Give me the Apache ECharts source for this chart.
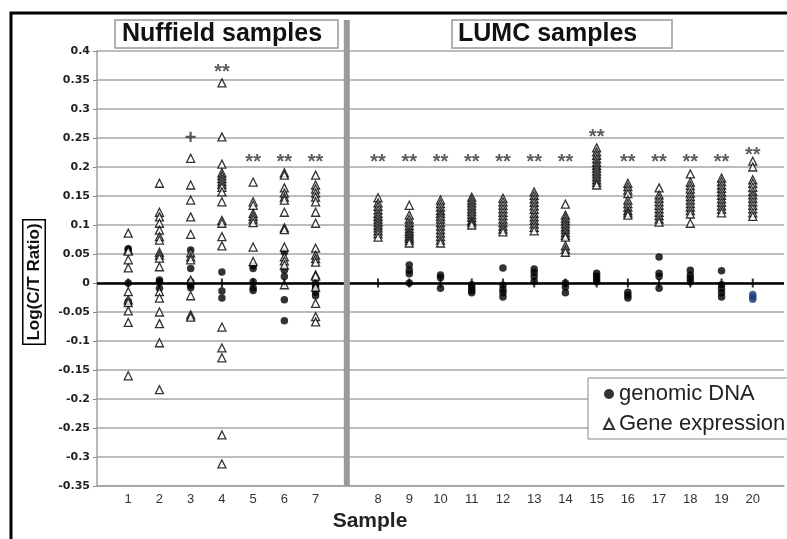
<!DOCTYPE html>
<html>
<head>
<meta charset="utf-8">
<script src="https://cdn.jsdelivr.net/npm/echarts@6/dist/echarts.min.js"></script>
<style>
html,body{margin:0;padding:0;background:#fff;}
#chart{width:787px;height:539px;}
</style>
</head>
<body>
<div id="chart"></div>
<script>
// ---- Data ----
const samples = ['1','2','3','4','5','6','7','8','9','10','11','12','13','14','15','16','17','18','19','20'];
const groupTitles = ['Nuffield samples', 'LUMC samples'];
const seriesNames = ['genomic DNA', 'Gene expression'];

// Gene expression log(C/T) values per sample
const geneExpression = [
  [0.086, 0.057, 0.055, 0.04, 0.026, -0.015, -0.029, -0.034, -0.048, -0.068, -0.16],
  [0.172, 0.122, 0.114, 0.103, 0.091, 0.08, 0.074, 0.053, 0.048, 0.043, 0.028, -0.015, -0.026, -0.05, -0.07, -0.103, -0.184],
  [0.215, 0.169, 0.143, 0.114, 0.084, 0.052, 0.045, 0.04, 0.005, -0.022, -0.055, -0.059],
  [0.345, 0.252, 0.205, 0.19, 0.185, 0.18, 0.175, 0.17, 0.165, 0.157, 0.14, 0.108, 0.103, 0.08, 0.064, -0.076, -0.112, -0.129, -0.262, -0.312],
  [0.174, 0.14, 0.134, 0.12, 0.115, 0.11, 0.104, 0.062, 0.037],
  [0.19, 0.186, 0.164, 0.155, 0.148, 0.143, 0.122, 0.095, 0.092, 0.062, 0.045, 0.038, 0.031, -0.003],
  [0.186, 0.169, 0.162, 0.155, 0.148, 0.14, 0.122, 0.103, 0.06, 0.048, 0.042, 0.036, 0.014, 0.012, -0.007, -0.035, -0.058, -0.067],
  [0.147, 0.138, 0.132, 0.126, 0.12, 0.115, 0.11, 0.105, 0.1, 0.095, 0.09, 0.085, 0.079],
  [0.134, 0.117, 0.11, 0.104, 0.099, 0.094, 0.089, 0.085, 0.081, 0.077, 0.073, 0.069],
  [0.143, 0.137, 0.131, 0.125, 0.12, 0.115, 0.11, 0.104, 0.098, 0.092, 0.086, 0.08, 0.074, 0.069],
  [0.148, 0.143, 0.138, 0.133, 0.128, 0.123, 0.118, 0.113, 0.108, 0.104, 0.1],
  [0.146, 0.14, 0.134, 0.128, 0.122, 0.116, 0.11, 0.104, 0.098, 0.093, 0.088],
  [0.157, 0.151, 0.145, 0.139, 0.133, 0.127, 0.12, 0.114, 0.108, 0.102, 0.096, 0.09],
  [0.136, 0.117, 0.112, 0.107, 0.102, 0.097, 0.092, 0.087, 0.082, 0.079, 0.064, 0.058, 0.053],
  [0.233, 0.226, 0.22, 0.214, 0.208, 0.203, 0.198, 0.193, 0.188, 0.183, 0.178, 0.173, 0.169],
  [0.172, 0.166, 0.16, 0.154, 0.143, 0.137, 0.131, 0.125, 0.121, 0.117],
  [0.164, 0.152, 0.146, 0.14, 0.134, 0.128, 0.122, 0.116, 0.11, 0.105],
  [0.188, 0.174, 0.168, 0.162, 0.155, 0.149, 0.143, 0.137, 0.131, 0.125, 0.119, 0.103],
  [0.181, 0.175, 0.169, 0.163, 0.157, 0.151, 0.145, 0.139, 0.133, 0.127, 0.121],
  [0.21, 0.2, 0.178, 0.172, 0.165, 0.158, 0.152, 0.146, 0.14, 0.134, 0.128, 0.121, 0.115]
];

// Genomic DNA log(C/T) values per sample
const genomicDNA = [
  [0.059, 0.057, 0, -0.032, -0.035],
  [0.005, 0.002, -0.009],
  [0.057, 0.025, 0.002, -0.004, -0.008],
  [0.019, -0.014, -0.026],
  [0.03, 0.025, 0.002, -0.008, -0.013],
  [0.053, 0.022, 0.011, -0.029, -0.065],
  [0, -0.004, -0.01, -0.016, -0.022],
  [],
  [0.031, 0.022, 0.016, 0],
  [0.014, 0.009, -0.009],
  [-0.003, -0.008, -0.013, -0.017],
  [0.026, -0.004, -0.011, -0.017, -0.024],
  [0.024, 0.018, 0.011, 0.003],
  [0, -0.007, -0.017],
  [0.017, 0.012, 0.007, 0.002],
  [-0.016, -0.021, -0.026],
  [0.045, 0.017, 0.011, -0.009],
  [0.022, 0.014, 0.008, 0.002],
  [0.021, -0.003, -0.01, -0.017, -0.024],
  [-0.02, -0.024, -0.028]
];

// Significance annotations
const annotSamples = ['3', '4', '5', '6', '7', '8', '9', '10', '11', '12', '13', '14', '15', '16', '17', '18', '19', '20'];
const annotValues  = [0.258, 0.371, 0.217, 0.217, 0.217, 0.217, 0.217, 0.217, 0.217, 0.217, 0.217, 0.217, 0.26, 0.217, 0.217, 0.217, 0.217, 0.229];
const annotTexts   = ['+', '**', '**', '**', '**', '**', '**', '**', '**', '**', '**', '**', '**', '**', '**', '**', '**', '**'];

// ---- Build ----
const splitAfter = 7; // gap (separator) between the two sample groups
const posOf = s => { const i = samples.indexOf(s); return i < splitAfter ? i + 1 : i + 2; };
const gapPos = splitAfter + 1;
const labelAt = {};
samples.forEach(s => { labelAt[posOf(s)] = s; });

const geData = [];
geneExpression.forEach((arr, i) => arr.forEach(v => geData.push([posOf(samples[i]), v])));
const dnaData = [];
genomicDNA.forEach((arr, i) => arr.forEach(v => {
  const item = { value: [posOf(samples[i]), v] };
  if (samples[i] === '20') item.itemStyle = { color: '#1d3f78' };
  dnaData.push(item);
}));
const tickData = samples.map(s => [posOf(s), 0]);
const annotData = annotSamples.map((s, i) => ({ value: [posOf(s), annotValues[i]], name: annotTexts[i] }));

const chart = echarts.init(document.getElementById('chart'), null, { renderer: 'canvas' });

const option = {
  backgroundColor: '#fff',
  animation: false,
  grid: { left: 97, top: 51, width: 692, height: 435, containLabel: false },
  xAxis: {
    type: 'value', min: 0, max: 22, interval: 1,
    axisLine: { onZero: false, show: true, lineStyle: { color: '#a0a0a0', width: 1.5 } },
    axisTick: { show: false },
    splitLine: { show: false },
    axisLabel: {
      margin: 7, fontSize: 13, color: '#333', fontFamily: 'Liberation Sans',
      formatter: v => labelAt[v] || ''
    }
  },
  yAxis: {
    type: 'value', min: -0.35, max: 0.4, interval: 0.05,
    axisLine: { show: true, lineStyle: { color: '#a0a0a0', width: 1.5 } },
    axisTick: { show: true, length: 4, lineStyle: { color: '#888' } },
    splitLine: { show: true, showMinLine: true, showMaxLine: true, lineStyle: { color: '#a6a6a6', width: 1.5 } },
    axisLabel: {
      margin: 7, fontSize: 11, fontWeight: 'bold', color: '#222', fontFamily: 'DejaVu Sans',
      formatter: v => String(Math.round(v * 100) / 100)
    }
  },
  legend: {
    orient: 'vertical', left: 588, top: 378,
    padding: [5, 8, 4, 15], itemGap: 8, itemWidth: 10, itemHeight: 10,
    backgroundColor: '#fff', borderColor: '#888', borderWidth: 1,
    textStyle: { fontSize: 22, color: '#222', fontFamily: 'Liberation Sans' },
    data: [{ name: seriesNames[0], icon: 'circle' }, { name: seriesNames[1], icon: 'triangle' }]
  },
  series: [
    {
      name: 'zero', type: 'scatter', silent: true, z: 1,
      symbol: 'rect', symbolSize: [2, 9], itemStyle: { color: '#000' },
      data: tickData,
      markLine: {
        silent: true, symbol: 'none', label: { show: false },
        lineStyle: { color: '#000', width: 2.5, type: 'solid' },
        data: [{ yAxis: 0 }]
      }
    },
    {
      name: seriesNames[0], type: 'scatter', z: 3,
      symbol: 'circle', symbolSize: 7.5,
      itemStyle: { color: '#000' },
      data: dnaData
    },
    {
      name: seriesNames[1], type: 'scatter', z: 4,
      symbol: 'triangle', symbolSize: 8,
      itemStyle: { color: '#fff', borderColor: '#000', borderWidth: 1.3 },
      data: geData
    },
    {
      name: 'annot', type: 'scatter', silent: true, z: 5,
      symbolSize: 0,
      data: annotData,
      label: {
        show: true, position: 'inside', offset: [0, 5],
        formatter: p => p.name,
        fontSize: 20, fontWeight: 'bold', color: '#333', fontFamily: 'Liberation Sans'
      }
    }
  ]
};
chart.setOption(option);

const barX = chart.convertToPixel({ xAxisIndex: 0 }, gapPos);
const yBottom = chart.convertToPixel({ yAxisIndex: 0 }, -0.35);

chart.setOption({
  graphic: [
    { type: 'rect', z: 0, silent: true, shape: { x: 11, y: 13, width: 900, height: 700 },
      style: { fill: 'none', stroke: '#000', lineWidth: 3 } },
    { type: 'rect', z: 10, silent: true, shape: { x: barX - 3, y: 20, width: 6, height: yBottom - 20 },
      style: { fill: '#9a9a9a' } },
    { type: 'rect', z: 10, silent: true, shape: { x: 115, y: 20, width: 223, height: 28 },
      style: { fill: '#fff', stroke: '#999', lineWidth: 1.5 } },
    { type: 'text', z: 11, silent: true, x: 122, y: 34,
      style: { text: groupTitles[0], font: 'bold 25px "Liberation Sans"', fill: '#111', verticalAlign: 'middle', align: 'left' } },
    { type: 'rect', z: 10, silent: true, shape: { x: 452, y: 20, width: 220, height: 28 },
      style: { fill: '#fff', stroke: '#999', lineWidth: 1.5 } },
    { type: 'text', z: 11, silent: true, x: 458, y: 34,
      style: { text: groupTitles[1], font: 'bold 25px "Liberation Sans"', fill: '#111', verticalAlign: 'middle', align: 'left' } },
    { type: 'text', z: 11, silent: true, x: 34, y: 282, rotation: Math.PI / 2,
      style: { text: 'Log(C/T Ratio)', font: 'bold 17px "Liberation Sans"', fill: '#111', align: 'center', verticalAlign: 'middle',
               borderColor: '#000', borderWidth: 1.5, padding: [3, 3, 1, 3], backgroundColor: '#fff' } },
    { type: 'text', z: 11, silent: true, x: 370, y: 521,
      style: { text: 'Sample', font: 'bold 21px "Liberation Sans"', fill: '#222', align: 'center', verticalAlign: 'middle' } }
  ]
});
</script>
</body>
</html>
